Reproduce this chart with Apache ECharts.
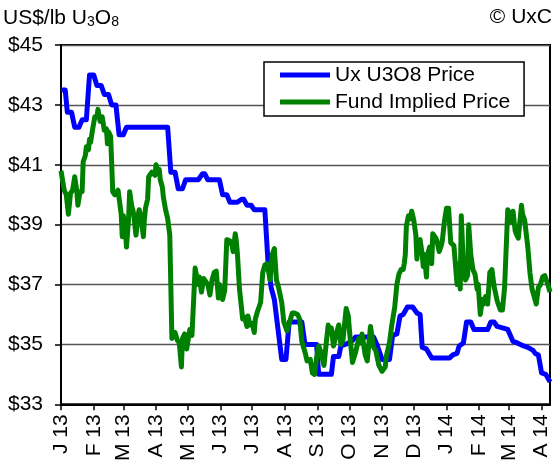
<!DOCTYPE html>
<html>
<head>
<meta charset="utf-8">
<script src="https://cdn.jsdelivr.net/npm/echarts@6/dist/echarts.min.js"></script>
<style>
  html, body { margin: 0; padding: 0; background: #fff; }
  #chart { width: 555px; height: 464px; }
</style>
</head>
<body>
<div id="chart"></div>
<script>
// days counted from 1 Jan 2013
const monthTicks = [0, 31, 59, 90, 120, 151, 181, 212, 243, 273, 304, 334, 365, 396, 424, 455]
const monthLabels = ['J 13', 'F 13', 'M 13', 'A 13', 'M 13', 'J 13', 'J 13', 'A 13', 'S 13', 'O 13', 'N 13', 'D 13', 'J 14', 'F 14', 'M 14', 'A 14']

// [day, US$/lb]
const uxPrice = [
  [0, 43.5], [4, 43.5], [6, 42.75], [10, 42.75], [13, 42.25], [17, 42.25], [20, 42.5], [24, 42.5],
  [27, 44.0], [31, 44.0], [34, 43.65], [38, 43.65], [41, 43.35], [45, 43.35], [48, 43.0], [52, 43.0],
  [55, 42.0], [59, 42.0], [62, 42.25], [101, 42.25], [104, 40.75], [108, 40.75], [111, 40.2], [115, 40.2],
  [118, 40.5], [130, 40.5], [134, 40.7], [136, 40.7], [139, 40.5], [150, 40.5], [153, 40.0], [157, 40.0],
  [160, 39.75], [167, 39.75], [171, 39.85], [173, 39.85], [176, 39.65], [180, 39.65], [183, 39.5], [193, 39.5],
  [196, 37.75], [199, 36.9], [202, 36.5], [209, 34.5], [213, 34.5], [216, 35.75], [228, 35.75], [231, 35.0],
  [242, 35.0], [244, 34.0], [256, 34.0], [258, 34.6], [263, 34.6], [265, 34.95], [269, 35.0], [275, 35.1],
  [279, 35.25], [296, 35.25], [299, 35.0], [304, 34.5], [311, 34.5], [314, 35.3], [318, 35.35], [321, 35.95],
  [324, 36.0], [328, 36.25], [333, 36.25], [337, 36.05], [340, 36.0], [342, 34.9], [346, 34.85], [351, 34.55],
  [368, 34.55], [371, 34.65], [375, 34.7], [377, 34.95], [381, 35.05], [384, 35.75], [388, 35.75], [391, 35.5],
  [404, 35.5], [407, 35.75], [410, 35.75], [413, 35.6], [418, 35.55], [423, 35.5], [428, 35.1], [432, 35.05],
  [438, 34.95], [442, 34.9], [447, 34.8], [449, 34.7], [452, 34.65], [455, 34.05], [459, 34.0], [463, 33.75]
]

const fundPrice = [
  [0, 40.8], [1, 40.8], [3, 40.15], [5, 40.0], [7, 39.35], [9, 40.05], [11, 40.15], [13, 40.6],
  [15, 40.1], [16, 39.65], [18, 40.1], [20, 40.1], [21, 41.1], [23, 41.3], [24, 41.6], [26, 41.5],
  [27, 41.85], [28, 41.75], [30, 42.2], [31, 42.4], [32, 42.6], [34, 42.6], [35, 42.85], [37, 42.45],
  [39, 42.6], [40, 42.6], [41, 42.15], [43, 42.2], [44, 41.7], [45, 42.1], [47, 41.95], [48, 41.95],
  [49, 40.1], [51, 40.0], [54, 40.15], [57, 39.35], [58, 38.6], [59, 39.3], [61, 38.8], [62, 38.25],
  [64, 39.2], [65, 40.1], [67, 39.6], [68, 39.5], [69, 39.3], [71, 38.65], [73, 39.3], [74, 39.5],
  [76, 39.2], [78, 38.6], [79, 39.2], [80, 39.55], [82, 39.85], [83, 40.6], [86, 40.75], [89, 40.65],
  [90, 41.0], [92, 40.75], [93, 40.85], [94, 40.5], [96, 40.25], [97, 39.9], [99, 39.5], [101, 39.2],
  [103, 38.65], [104, 38.6], [105, 35.2], [108, 35.4], [110, 35.15], [112, 35.05], [114, 34.25], [115, 35.2],
  [117, 35.35], [119, 34.85], [122, 35.5], [124, 35.3], [127, 37.55], [128, 37.35], [130, 37.0], [131, 37.25],
  [133, 36.75], [135, 37.2], [137, 37.1], [139, 37.0], [141, 36.65], [143, 37.15], [145, 37.4], [147, 37.45],
  [149, 36.55], [150, 37.0], [153, 36.5], [155, 36.8], [157, 38.5], [160, 38.45], [162, 38.3], [163, 38.1],
  [165, 38.7], [166, 38.45], [167, 38.05], [169, 36.85], [172, 35.85], [174, 35.9], [176, 35.6], [177, 35.95],
  [179, 35.65], [181, 35.7], [183, 35.4], [184, 35.85], [186, 36.1], [189, 36.4], [191, 37.4], [193, 37.65],
  [195, 37.7], [197, 37.35], [198, 37.15], [200, 38.0], [202, 38.2], [204, 37.15], [206, 36.9], [209, 36.4],
  [211, 35.75], [214, 35.45], [216, 35.7], [219, 36.05], [221, 36.05], [224, 36.0], [226, 35.85], [228, 35.1],
  [231, 34.75], [233, 34.45], [236, 34.5], [238, 34.05], [240, 34.0], [242, 34.55], [244, 34.95], [246, 34.75],
  [249, 34.3], [251, 35.0], [253, 35.65], [254, 35.4], [256, 35.55], [258, 34.95], [261, 35.4], [263, 35.65],
  [265, 35.0], [267, 35.15], [270, 36.2], [272, 35.95], [274, 35.1], [276, 34.4], [279, 34.75], [282, 35.2],
  [284, 35.05], [285, 35.35], [288, 34.65], [290, 34.45], [293, 35.6], [296, 34.9], [298, 34.8], [301, 34.3],
  [304, 34.1], [307, 34.25], [308, 34.6], [311, 35.05], [313, 35.6], [316, 36.25], [318, 37.0], [320, 37.35],
  [322, 37.5], [324, 37.5], [325, 37.7], [326, 38.0], [327, 38.95], [329, 39.3], [331, 39.2], [332, 39.45],
  [334, 39.15], [336, 38.65], [337, 37.85], [338, 38.45], [340, 38.5], [342, 38.0], [343, 37.6], [344, 38.0],
  [346, 37.25], [347, 38.0], [349, 38.25], [351, 37.7], [352, 38.7], [355, 38.55], [356, 38.45], [358, 38.1],
  [360, 38.3], [361, 38.45], [363, 39.1], [365, 39.55], [367, 39.55], [369, 38.4], [372, 38.3], [375, 37.0],
  [377, 37.7], [378, 36.85], [379, 39.3], [381, 37.6], [383, 37.15], [385, 37.3], [386, 39.0], [388, 38.0],
  [390, 37.5], [392, 37.35], [394, 36.85], [395, 37.0], [397, 36.0], [399, 36.5], [400, 36.35], [402, 36.6],
  [404, 36.35], [406, 37.4], [408, 37.5], [410, 36.95], [413, 36.45], [416, 36.15], [418, 36.15], [420, 36.9],
  [423, 39.5], [424, 39.4], [426, 39.1], [428, 39.45], [430, 38.8], [431, 38.7], [433, 38.55], [436, 39.65],
  [437, 39.35], [439, 39.15], [442, 38.25], [444, 37.4], [446, 36.85], [447, 36.9], [450, 36.35], [452, 36.9],
  [454, 37.0], [456, 37.25], [458, 37.3], [461, 37.0], [463, 36.75]
]

const font = '"Liberation Sans", Arial, sans-serif'
const chart = echarts.init(document.getElementById('chart'))

chart.setOption({
  animation: false,
  textStyle: { fontFamily: font, color: '#000' },
  title: [
    {
      text: '{a|US$/lb U}{s|3}{a|O}{s|8}',
      left: 3, top: 5, padding: 0,
      textStyle: {
        fontWeight: 'normal',
        rich: {
          a: { fontSize: 21, fontWeight: 'normal', fontFamily: font, color: '#000', verticalAlign: 'bottom', lineHeight: 24 },
          s: { fontSize: 14, fontWeight: 'normal', fontFamily: font, color: '#000', verticalAlign: 'bottom', lineHeight: 24 }
        }
      }
    },
    {
      text: '© UxC',
      right: 3, top: 5, padding: 0,
      textStyle: { fontSize: 21, fontWeight: 'normal', fontFamily: font, color: '#000', lineHeight: 24 }
    }
  ],
  legend: {
    left: 264, top: 62,
    orient: 'vertical',
    icon: 'rect',
    itemWidth: 50, itemHeight: 5, itemGap: 5,
    padding: [2, 14, 3, 16],
    borderColor: '#000', borderWidth: 1.5,
    backgroundColor: '#fff',
    textStyle: { fontSize: 21, fontFamily: font, color: '#000', lineHeight: 22 },
    data: ['Ux U3O8 Price', 'Fund Implied Price']
  },
  grid: {
    left: 61, right: 5, top: 45, bottom: 54,
    show: true, borderColor: '#000', borderWidth: 2
  },
  xAxis: {
    type: 'value',
    min: 0, max: 463,
    axisLine: { show: true, lineStyle: { color: '#000', width: 2 } },
    axisTick: { show: true, length: 6, lineStyle: { color: '#000', width: 1.5 }, customValues: monthTicks },
    axisLabel: {
      customValues: monthTicks,
      rotate: 90, margin: 10,
      fontSize: 21, fontFamily: font, color: '#000',
      formatter: (v) => monthLabels[monthTicks.indexOf(v)] ?? ''
    },
    splitLine: { show: false }
  },
  yAxis: {
    type: 'value',
    min: 33, max: 45, interval: 2,
    axisLine: { show: true, lineStyle: { color: '#000', width: 2 } },
    axisTick: { show: true, length: 6, lineStyle: { color: '#000', width: 1.5 } },
    axisLabel: {
      margin: 18, fontSize: 21, fontFamily: font, color: '#000',
      formatter: (v) => '$' + v
    },
    splitLine: { show: true, lineStyle: { color: '#555', width: 1.3 } }
  },
  series: [
    {
      name: 'Ux U3O8 Price',
      type: 'line',
      data: uxPrice,
      showSymbol: false,
      color: '#0000ff',
      lineStyle: { width: 5, color: '#0000ff', join: 'round' }
    },
    {
      name: 'Fund Implied Price',
      type: 'line',
      data: fundPrice,
      showSymbol: false,
      color: '#008000',
      lineStyle: { width: 5, color: '#008000', join: 'round' }
    }
  ]
})
</script>
</body>
</html>
